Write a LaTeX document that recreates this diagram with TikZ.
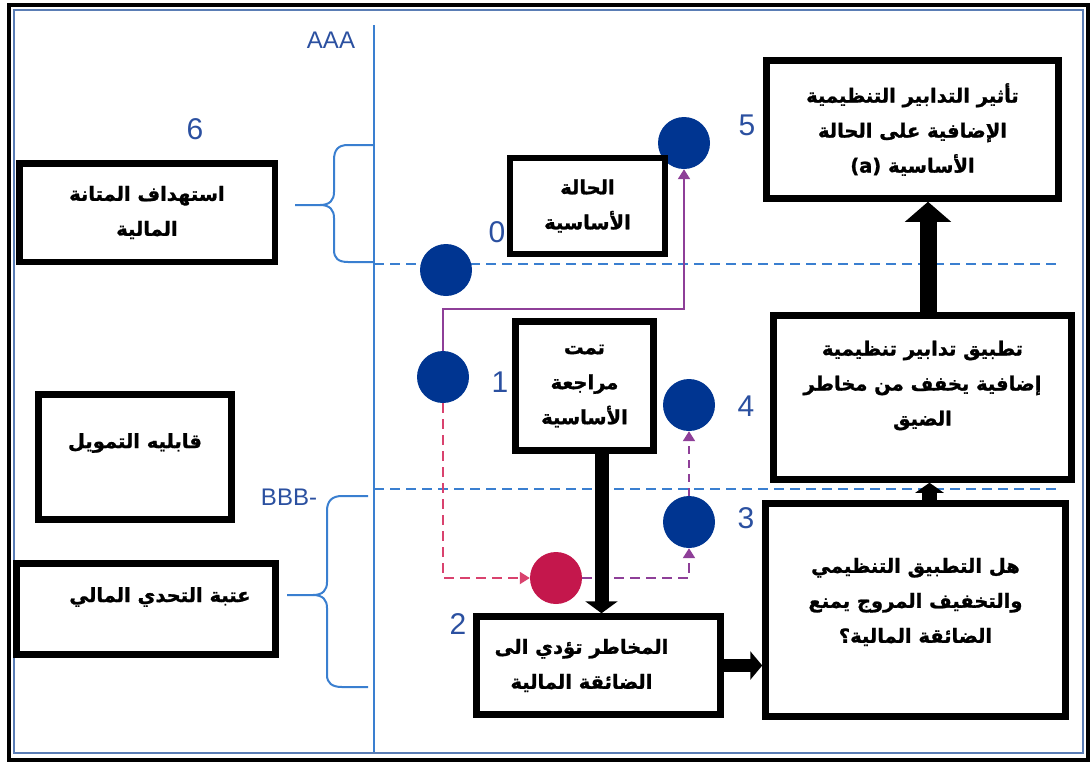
\documentclass[tikz,border=0pt]{standalone}
\usepackage{fontspec}
\setmainfont{Liberation Sans}
\newfontfamily\arabicfont[Script=Arabic,BoldFeatures={FakeBold=1.2}]{DejaVu Sans}
\TeXXeTstate=1
\usetikzlibrary{arrows.meta,calc}
\newcommand{\ar}[1]{{\arabicfont\bfseries\beginR #1\endR}}
\definecolor{axisblue}{HTML}{3A7FD0}
\definecolor{numblue}{HTML}{2B50A0}
\definecolor{dotblue}{HTML}{003591}
\definecolor{dotred}{HTML}{C4174C}
\definecolor{purp}{HTML}{8E3F98}
\definecolor{pinkd}{HTML}{D9426E}
\definecolor{frameblue}{HTML}{5A7DB5}
\begin{document}
\begin{tikzpicture}[x=1pt,y=-1pt,
  box/.style={draw, line width=6.5pt, inner sep=0pt, align=center, fill=white,
    font=\fontsize{19.5pt}{35pt}\selectfont},
  dot/.style={circle, fill=dotblue, minimum size=52pt, inner sep=0pt},
  num/.style={text=numblue, font=\fontsize{30pt}{30pt}\selectfont, inner sep=0pt},
  axisline/.style={draw=axisblue, line width=2pt},
  level/.style={draw=axisblue, line width=2pt, dash pattern=on 10pt off 6pt},
  brace/.style={draw=axisblue, line width=2pt},
  thin/.style={line width=2pt, -{Triangle[width=12pt,length=10pt]}},
]
\useasboundingbox (0,0) rectangle (1092,764);
% frames
\draw[line width=4pt] (8.5,5) rectangle (1088,760);
\draw[draw=frameblue, line width=1.6pt] (14,10) rectangle (1083,753);
% axis and levels
\draw[axisline] (374,25) -- (374,752);
\draw[level] (374,264) -- (1062,264);
\draw[level] (374,489) -- (1062,489);
% braces
\draw[brace] (374,145) -- (348,145) .. controls (338,145) and (334,150) .. (334,160)
  -- (334,192) .. controls (334,200) and (330,205) .. (320,205) -- (295,205);
\draw[brace] (320,205) .. controls (330,205) and (334,210) .. (334,218)
  -- (334,250) .. controls (334,258) and (338,262) .. (348,262) -- (374,262);
\draw[brace] (368,496) -- (342,496) .. controls (332,496) and (327,501) .. (327,511)
  -- (327,582) .. controls (327,590) and (323,595) .. (313,595) -- (287,595);
\draw[brace] (313,595) .. controls (323,595) and (327,600) .. (327,608)
  -- (327,675) .. controls (327,683) and (332,687) .. (342,687) -- (368,687);
% axis labels
\node[num, font=\fontsize{24pt}{24pt}\selectfont] (laaa) at (331,40) {AAA};
\node[num, font=\fontsize{24pt}{24pt}\selectfont] (lbbb) at (289,497) {BBB-};
\node[num] (n6) at (195,129) {6};
\node[num] (n5) at (747,125) {5};
\node[num] (n0) at (497,232) {0};
\node[num] (n1) at (500,382) {1};
\node[num] (n4) at (746,406) {4};
\node[num] (n3) at (746,518) {3};
\node[num] (n2) at (458,624) {2};
% dots
\node[dot] (c0) at (446,270) {};
\node[dot] (c5) at (684,143) {};
\node[dot] (c1) at (443,377) {};
\node[dot] (c4) at (689,405) {};
\node[dot] (c3) at (689,522) {};
\node[dot, fill=dotred] (c2) at (556,578) {};
% thin connectors
\draw[thin, draw=purp] (c1.north) -- ++(0,-42) -| (c5.south);
\draw[thin, draw=pinkd, dash pattern=on 10pt off 6pt] (c1.south) |- (c2.west);
\draw[thin, draw=purp, dash pattern=on 10pt off 6pt] (c2.east) -| (c3.south);
\draw[thin, draw=purp, dash pattern=on 8pt off 6pt] (c3.north) -- (c4.south);
% boxes
\node[box, minimum width=255.5pt, minimum height=98.5pt] (b1) at (147,212.5)
  {\ar{استهداف المتانة}\\\ar{المالية}};
\node[box, minimum width=193pt, minimum height=125pt] (b2) at (135,457)
  {\raisebox{14pt}[\height][\depth]{\ar{قابليه التمويل}}};
\node[box, minimum width=259pt, minimum height=91pt] (b3) at (146,609)
  {\hspace*{28pt}\raisebox{12pt}[\height][\depth]{\ar{عتبة التحدي المالي}}};
\node[box, minimum width=155pt, minimum height=96pt] (b4) at (587.5,206)
  {\ar{الحالة}\\\ar{الأساسية}};
\node[box, minimum width=292pt, minimum height=138pt] (b5) at (912.5,129.5)
  {\ar{تأثير التدابير التنظيمية}\\\ar{الإضافية على الحالة}\\\ar{الأساسية \beginL(a)\endL}};
\node[box, minimum width=138pt, minimum height=129pt] (b6) at (584.5,386)
  {\ar{تمت}\\\ar{مراجعة}\\\ar{الأساسية}};
\node[box, minimum width=244pt, minimum height=98pt] (b7) at (598.5,665.5)
  {\ar{المخاطر تؤدي الى}\hspace*{34pt}\\\ar{الضائقة المالية}\hspace*{34pt}};
\node[box, minimum width=298pt, minimum height=164pt] (b8) at (922.5,397.5)
  {\raisebox{12pt}[\height][\depth]{\ar{تطبيق تدابير تنظيمية}}\\\raisebox{12pt}[\height][\depth]{\ar{إضافية يخفف من مخاطر}}\\\raisebox{12pt}[\height][\depth]{\ar{الضيق}}};
\node[box, minimum width=300pt, minimum height=213pt] (b9) at (915.5,610)
  {\raisebox{8pt}[\height][\depth]{\ar{هل التطبيق التنظيمي}}\\\raisebox{8pt}[\height][\depth]{\ar{والتخفيف المروج يمنع}}\\\raisebox{8pt}[\height][\depth]{\ar{الضائقة المالية؟}}};
% thick arrows
\draw[line width=14pt, -{Triangle[width=32pt,length=12pt]}]
  ([xshift=17pt]b6.south) -- ([xshift=17pt]b6.south |- b7.north);
\draw[line width=13pt, -{Triangle[width=28pt,length=12pt]}]
  (b7.east) -- (b7.east -| b9.west);
\draw[line width=15pt, -{Triangle[width=28pt,length=10pt]}]
  ([xshift=14pt]b9.north) -- ([xshift=14pt]b9.north |- b8.south);
\draw[line width=17pt, -{Triangle[width=45pt,length=20pt]}]
  ([xshift=5.5pt]b8.north) -- ([xshift=5.5pt]b8.north |- b5.south);
\end{tikzpicture}
\end{document}
